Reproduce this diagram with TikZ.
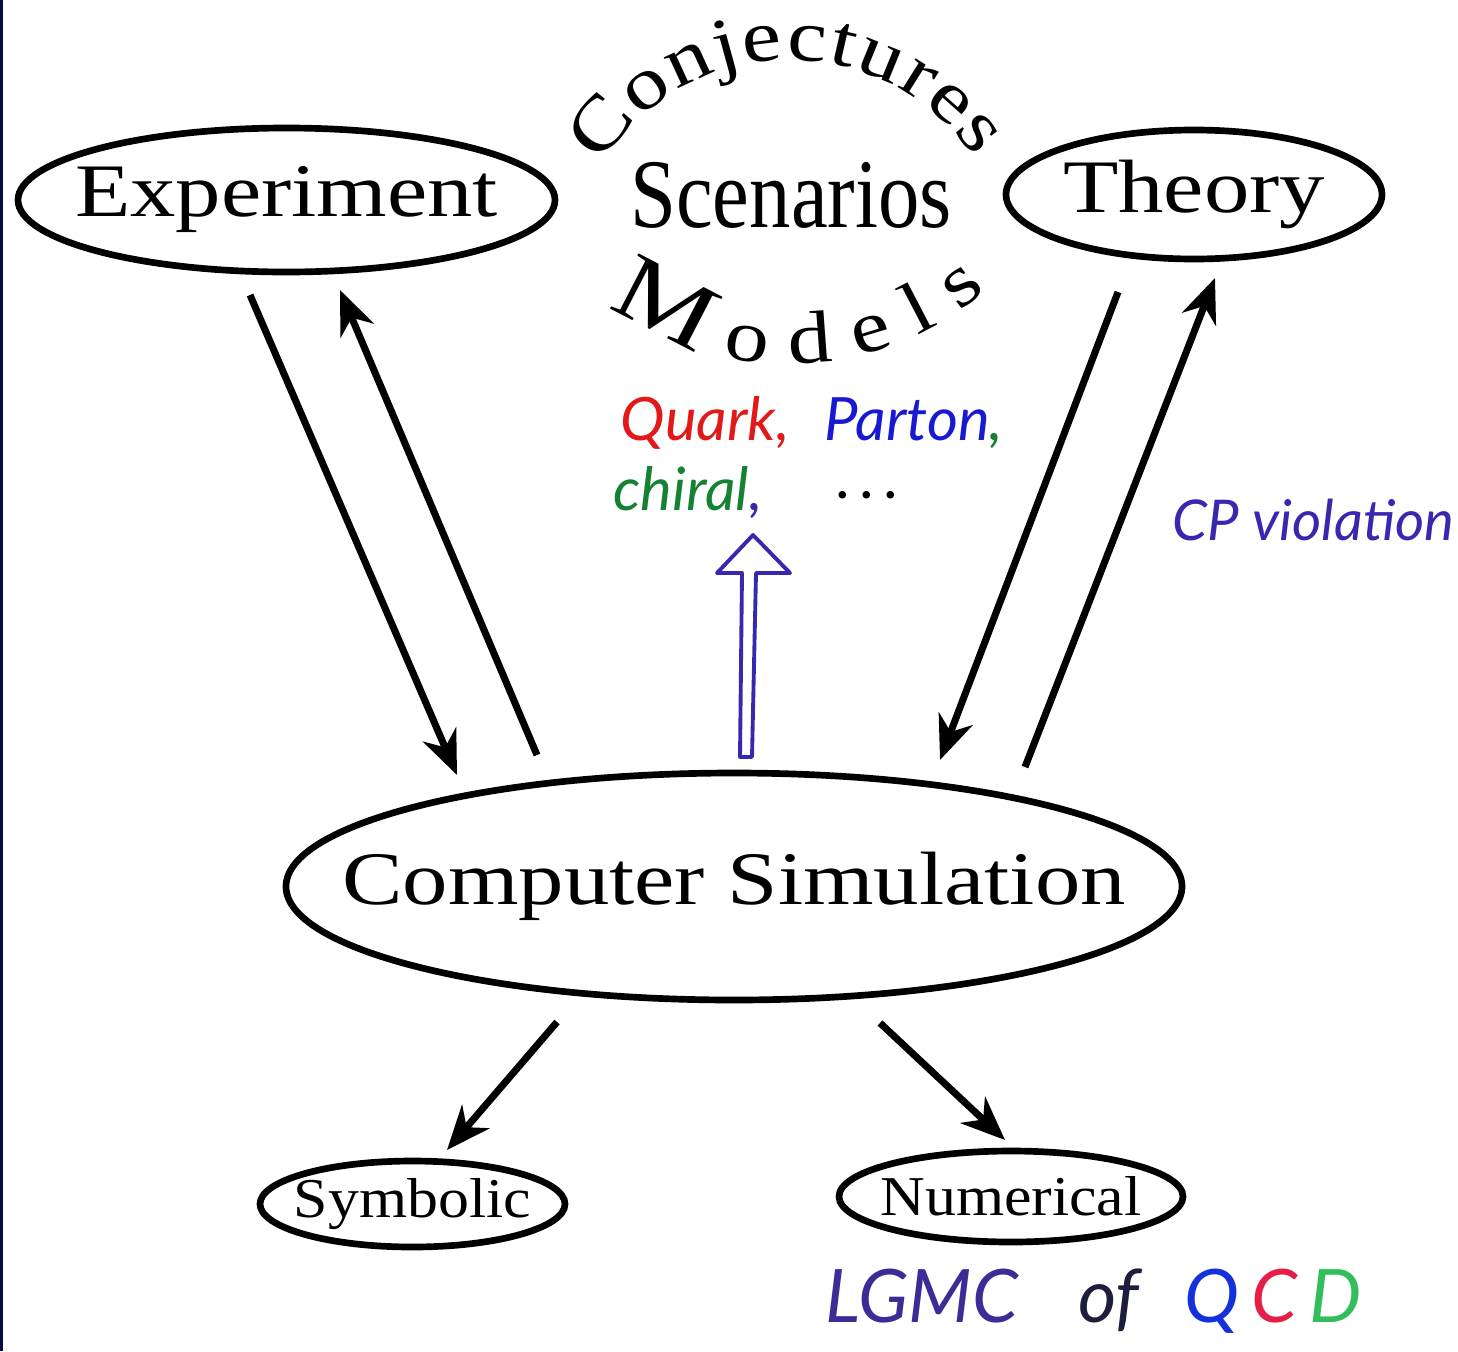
\documentclass[tikz,border=0pt]{standalone}
\usepackage{fontspec}
\setmainfont{Liberation Serif}
\newfontfamily\widefont[FakeStretch=1.2]{Liberation Serif}
\newfontfamily\narrowfont[FakeStretch=0.84]{Liberation Serif}
\newfontfamily\smallfont[FakeStretch=1.1]{Liberation Serif}
\newfontfamily\handfont{Lato}
\usepackage{xcolor}
\usepackage{tikz}
\usetikzlibrary{shapes.geometric, arrows.meta, decorations.text}
\definecolor{navy}{RGB}{10,10,70}
\definecolor{qred}{RGB}{225,25,25}
\definecolor{pblue}{RGB}{25,25,210}
\definecolor{cgreen}{RGB}{20,130,50}
\definecolor{penblue}{RGB}{55,40,175}
\definecolor{lgmcv}{RGB}{60,45,150}
\definecolor{ofink}{RGB}{30,30,60}
\definecolor{qblue}{RGB}{20,50,220}
\definecolor{cred}{RGB}{230,30,70}
\definecolor{dgreen}{RGB}{50,190,90}
\newcommand{\inbox}[1]{\makebox[0pt]{#1}}
\tikzset{
  bubble/.style={ellipse, draw, line width=1.9pt, inner sep=0pt, outer sep=0pt,
                 font=\widefont\fontsize{21.5}{24}\selectfont},
  small bubble/.style={bubble, font=\smallfont\fontsize{16}{18}\selectfont},
  arrow/.style={-{Stealth[length=0.44cm, width=0.36cm, inset=0.14cm]}, line width=2pt},
  hollow/.style={draw=penblue, line width=1.1pt, line join=round},
  hand/.style={font=\handfont\itshape\fontsize{17}{20}\selectfont, inner sep=0pt},
}

\begin{document}
\begin{tikzpicture}
  \useasboundingbox (0,0) rectangle (14.58,-13.51);
  \fill[navy] (0,0) rectangle (0.03,-13.51);

  % Main nodes
  \node[bubble, minimum width=5.37cm, minimum height=1.44cm] (exp) at (2.865,-2.00) {\inbox{Experiment}};
  \node[bubble, minimum width=3.76cm, minimum height=1.29cm] (thy) at (11.94,-1.945) {\inbox{Theory}};
  \node[bubble, minimum width=8.96cm, minimum height=2.27cm] (sim) at (7.34,-8.865) {\inbox{Computer Simulation}};
  \node[font=\narrowfont\fontsize{28}{30}\selectfont, anchor=base, inner sep=0pt] (scen) at (7.91,-2.27) {Scenarios};

  % Lower nodes
  \node[small bubble, minimum width=3.05cm, minimum height=0.86cm] (sym) at (4.125,-12.04) {\inbox{Symbolic}};
  \node[small bubble, minimum width=3.44cm, minimum height=0.91cm] (num) at (10.11,-11.965) {\inbox{Numerical}};

  % Curved words
  \path[decorate, decoration={text along path, text align=fit to path,
        text={|\widefont\fontsize{21}{21}\selectfont|Conjectures}}]
    (6.009,-1.648) arc[start angle=148, end angle=34, radius=2.23cm];
  \path[decorate, decoration={text along path, text align=fit to path,
        text={|\widefont\fontsize{27}{27}\selectfont|M|\widefont\fontsize{21}{21}\selectfont|odels}}]
    (6.095,-3.036) arc[start angle=233, end angle=311, radius=3cm];

  % Handwritten notes
  \node[hand, anchor=base west] (list1) at (6.20,-4.40)
    {\textcolor{qred}{Quark,}\hspace{0.35cm}\textcolor{pblue}{Parton}\textcolor{cgreen}{,}};
  \node[hand, anchor=base west] (list2) at (6.13,-5.10)
    {\textcolor{cgreen}{chiral}\textcolor{penblue}{,}\hspace{0.75cm}\raisebox{0.12cm}{.\,.\,.}};
  \node[hand, font=\handfont\itshape\fontsize{16}{18}\selectfont, text=penblue, anchor=base west] (cp) at (11.72,-5.40) {CP violation};
  \node[hand, font=\handfont\itshape\fontsize{21}{24}\selectfont, text=ofink, anchor=base west] (lgmc) at (8.25,-13.22)
    {\textcolor{lgmcv}{LGMC}\hspace{0.6cm}of\hspace{0.45cm}\textcolor{qblue}{Q}\hspace{0.12cm}\textcolor{cred}{C}\hspace{0.12cm}\textcolor{dgreen}{D}};

  % Arrows up and down
  \draw[arrow] ([xshift=-0.365cm,yshift=-0.23cm]exp.south) -- ([xshift=-2.77cm,yshift=-0.02cm]sim.north);
  \draw[arrow] ([xshift=-1.97cm,yshift=0.18cm]sim.north) -- ([xshift=0.535cm,yshift=-0.18cm]exp.south);
  \draw[arrow] ([xshift=-0.76cm,yshift=-0.33cm]thy.south) -- ([xshift=2.06cm,yshift=0.13cm]sim.north);
  \draw[arrow] ([xshift=2.91cm,yshift=0.06cm]sim.north) -- ([xshift=0.21cm,yshift=-0.19cm]thy.south);
  \draw[arrow] ([xshift=-1.77cm,yshift=-0.22cm]sim.south) -- ([xshift=0.345cm,yshift=0.11cm]sym.north);
  \draw[arrow] ([xshift=1.46cm,yshift=-0.23cm]sim.south) -- ([xshift=-0.06cm,yshift=0.11cm]num.north);

  % Hollow arrow to the models
  \draw[hollow] ([xshift=0.18cm,yshift=0.16cm]sim.north) -- ++(-0.12,0) -- ++(0.02,1.84)
    -- ++(-0.25,0) -- ++(0.36,0.38) -- ++(0.37,-0.38) -- ++(-0.34,0) -- cycle;
\end{tikzpicture}
\end{document}
